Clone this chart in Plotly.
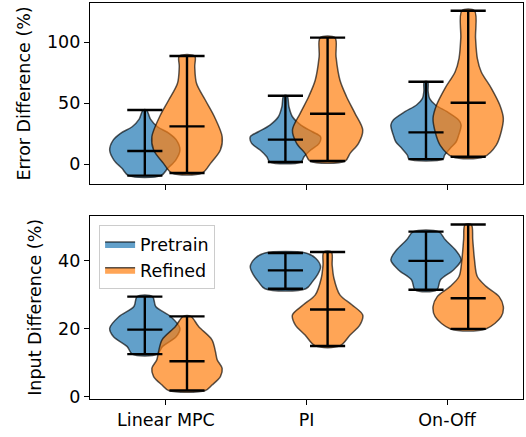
import plotly.graph_objects as go

categories = ["Linear MPC", "PI", "On-Off"]
series_names = ["Pretrain", "Refined"]

# ---------- Error Difference (%) ----------
err_pre_min = [-9.3, 1.9, 4.3]
err_pre_max = [44.5, 56.2, 67.7]
err_pre_mean = [10.9, 20.2, 26.2]
err_pre_levels = [
    [-9.3, -3.3, 3.5, 11.7, 19.9, 25.4, 30.8, 37.0, 44.5],
    [1.9, 6.2, 11.7, 17.2, 22.6, 26.7, 32.2, 39.0, 47.2, 56.2],
    [4.3, 7.6, 13.1, 18.5, 24.0, 32.2, 36.3, 43.1, 48.6, 54.1, 60.0, 67.7],
]
err_pre_widths = [
    [0.46, 0.65, 0.88, 1.0, 0.9, 0.69, 0.36, 0.16, 0.05],
    [0.44, 0.53, 0.72, 0.96, 1.0, 0.77, 0.44, 0.2, 0.1, 0.05],
    [0.48, 0.53, 0.69, 0.86, 0.93, 1.0, 0.93, 0.6, 0.27, 0.1, 0.06, 0.05],
]

err_ref_min = [-7.1, 2.7, 6.2]
err_ref_max = [88.8, 103.8, 125.9]
err_ref_mean = [31.1, 41.5, 50.5]
err_ref_levels = [
    [-7.1, 0.8, 11.7, 22.6, 39.0, 52.7, 66.4, 80.0, 88.8],
    [2.7, 9.0, 17.2, 28.1, 41.8, 55.4, 69.1, 88.2, 103.8],
    [6.2, 15.8, 26.7, 37.7, 48.6, 62.3, 75.9, 86.9, 103.3, 125.9],
]
err_ref_widths = [
    [0.43, 0.67, 0.95, 1.0, 0.78, 0.52, 0.27, 0.22, 0.22],
    [0.5, 0.64, 0.88, 1.0, 0.78, 0.54, 0.35, 0.24, 0.21],
    [0.45, 0.8, 0.94, 1.0, 0.9, 0.66, 0.37, 0.26, 0.21, 0.18],
]

# ---------- Input Difference (%) ----------
inp_pre_min = [12.5, 31.7, 31.4]
inp_pre_max = [29.4, 42.2, 48.5]
inp_pre_mean = [19.7, 37.1, 39.9]
inp_pre_levels = [
    [12.5, 14.7, 17.6, 20.1, 23.5, 26.5, 29.4],
    [31.7, 33.8, 35.8, 38.2, 40.7, 42.2],
    [31.4, 34.3, 37.3, 40.2, 43.1, 46.1, 48.5],
]
inp_pre_widths = [
    [0.36, 0.5, 0.89, 1.0, 0.74, 0.31, 0.22],
    [0.58, 0.77, 0.91, 1.0, 0.86, 0.58],
    [0.31, 0.41, 0.79, 1.0, 0.84, 0.55, 0.36],
]

inp_ref_min = [1.8, 14.9, 19.9]
inp_ref_max = [23.6, 42.5, 50.6]
inp_ref_mean = [10.4, 25.6, 28.9]
inp_ref_levels = [
    [1.8, 3.4, 5.9, 8.3, 10.8, 13.2, 16.7, 20.6, 23.6],
    [14.9, 18.1, 21.1, 24.0, 27.0, 29.9, 34.8, 38.7, 42.5],
    [19.9, 23.5, 26.5, 29.4, 32.4, 35.3, 40.2, 46.1, 50.6],
]
inp_ref_widths = [
    [0.52, 0.71, 0.95, 1.0, 0.86, 0.81, 0.71, 0.33, 0.11],
    [0.35, 0.64, 0.92, 1.0, 0.69, 0.35, 0.18, 0.13, 0.11],
    [0.5, 0.94, 1.0, 0.88, 0.51, 0.26, 0.18, 0.13, 0.09],
]

y_ticks_top = [0, 50, 100]
y_ticks_bottom = [0, 20, 40]

# ---------- styling ----------
FONT = "DejaVu Sans"
FS = 17.5
offsets = [-0.15, 0.15]
body_half = 0.25   # half of violin width 0.5
cap_half = 0.125
fills = ["rgba(31,119,180,0.7)", "rgba(255,127,14,0.7)"]
edge = "rgba(0,0,0,0.65)"

fig = go.Figure()

panels = [
    ("x", "y", [
        (err_pre_levels, err_pre_widths, err_pre_min, err_pre_max, err_pre_mean),
        (err_ref_levels, err_ref_widths, err_ref_min, err_ref_max, err_ref_mean),
    ]),
    ("x2", "y2", [
        (inp_pre_levels, inp_pre_widths, inp_pre_min, inp_pre_max, inp_pre_mean),
        (inp_ref_levels, inp_ref_widths, inp_ref_min, inp_ref_max, inp_ref_mean),
    ]),
]

line_traces = []
for pi, (xa, ya, series) in enumerate(panels):
    for si, (levels, widths, mins, maxs, means) in enumerate(series):
        for ci in range(len(categories)):
            pos = ci + offsets[si]
            lv = levels[ci]
            wd = widths[ci]
            xs = [pos + body_half * w for w in wd] + [pos - body_half * w for w in reversed(wd)]
            ys = list(lv) + list(reversed(lv))
            xs.append(xs[0])
            ys.append(ys[0])
            fig.add_trace(go.Scatter(
                x=xs, y=ys, xaxis=xa, yaxis=ya, mode="lines", fill="toself",
                fillcolor=fills[si], line=dict(color=edge, width=1.5, shape="spline", smoothing=0.9),
                name=series_names[si], legendgroup=series_names[si],
                showlegend=(pi == 1 and ci == 0), hoverinfo="skip",
            ))
        lx, ly = [], []
        for ci in range(len(categories)):
            pos = ci + offsets[si]
            lx += [pos, pos, None]
            ly += [mins[ci], maxs[ci], None]
            for v in (mins[ci], maxs[ci], means[ci]):
                lx += [pos - cap_half, pos + cap_half, None]
                ly += [v, v, None]
        line_traces.append(go.Scatter(
            x=lx, y=ly, xaxis=xa, yaxis=ya, mode="lines",
            line=dict(color="black", width=2.4), showlegend=False, hoverinfo="skip",
        ))

for t in line_traces:
    fig.add_trace(t)

axis_common = dict(
    showline=True, linecolor="black", linewidth=1.2, mirror=True,
    ticks="outside", ticklen=5, tickwidth=1.2, tickcolor="black",
    showgrid=False, zeroline=False,
    tickfont=dict(family=FONT, size=FS, color="black"),
)

H = 437
fig.update_layout(
    width=526, height=H,
    margin=dict(l=90, r=3, t=3, b=38),
    paper_bgcolor="white", plot_bgcolor="white",
    font=dict(family=FONT, size=FS, color="black"),
    xaxis=dict(domain=[0, 1], anchor="y", range=[-0.54, 2.54],
               tickvals=[0, 1, 2], ticktext=["", "", ""], **axis_common),
    yaxis=dict(domain=[0.543, 1.0], anchor="x", range=[-16.1, 132.2],
               tickvals=y_ticks_top,
               title=dict(text="Error Difference (%)", font=dict(family=FONT, size=FS), standoff=11),
               **axis_common),
    xaxis2=dict(domain=[0, 1], anchor="y2", range=[-0.54, 2.54],
                tickvals=[0, 1, 2], ticktext=categories, **axis_common),
    yaxis2=dict(domain=[0.0, 0.463], anchor="x2", range=[-0.7, 53.2],
                tickvals=y_ticks_bottom,
                title=dict(text="Input Difference (%)", font=dict(family=FONT, size=FS), standoff=11),
                **axis_common),
    legend=dict(x=0.021, y=0.439, xanchor="left", yanchor="top",
                bgcolor="rgba(255,255,255,0.8)", bordercolor="#cccccc", borderwidth=1,
                tracegroupgap=0,
                font=dict(family=FONT, size=FS, color="black")),
    showlegend=True,
)

fig.write_html("out.html")
